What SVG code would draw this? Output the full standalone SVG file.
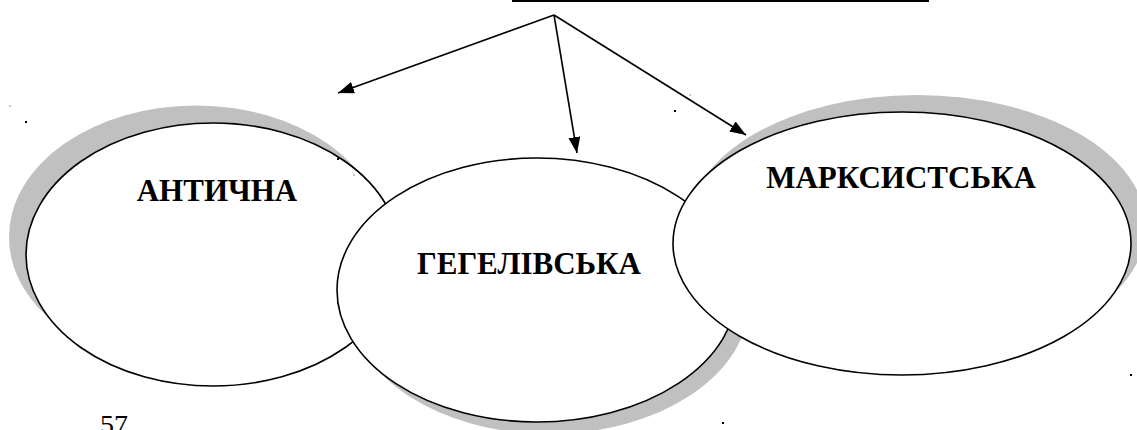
<svg xmlns="http://www.w3.org/2000/svg" width="1137" height="430" viewBox="0 0 1137 430">
<style>
.shadow{fill:#c0c0c0;stroke:none}
.node{fill:#fff;stroke:#000;stroke-width:1.6}
.lbl{font-family:"Liberation Serif","Times New Roman",serif;font-weight:bold;font-size:31px;fill:#000}
.conn{stroke:#000;stroke-width:1.6;fill:none}
.dot{fill:#000}
.gdot{fill:#c8c8c8}
</style>
<defs>
<marker id="arr" markerWidth="16" markerHeight="12" refX="16" refY="6" orient="auto" markerUnits="userSpaceOnUse">
<path d="M0,0 L16,6 L0,12 Z" fill="#000"/>
</marker>
</defs>
<rect width="1137" height="430" fill="#fff"/>
<line x1="512" y1="1" x2="929" y2="1" stroke="#000" stroke-width="2"/>
<g id="node-antychna">
<ellipse class="shadow" cx="196" cy="237" rx="187" ry="131.5"/>
<ellipse class="node" cx="213" cy="254.5" rx="187" ry="131.5"/>
<text class="lbl" x="217" y="201" text-anchor="middle">АНТИЧНА</text>
</g>
<g id="node-hegelivska">
<ellipse class="shadow" cx="549" cy="302" rx="200" ry="132"/>
<ellipse class="node" cx="537" cy="290" rx="200" ry="132"/>
<text class="lbl" x="529" y="274" text-anchor="middle">ГЕГЕЛІВСЬКА</text>
</g>
<g id="node-marksystska">
<ellipse class="shadow" cx="917" cy="226.5" rx="229" ry="131.5"/>
<ellipse class="node" cx="902" cy="243.5" rx="229" ry="131.5"/>
<text class="lbl" x="901" y="188" text-anchor="middle">МАРКСИСТСЬКА</text>
</g>
<g id="connectors">
<line class="conn" x1="554" y1="15" x2="338" y2="93" marker-end="url(#arr)"/>
<line class="conn" x1="554" y1="15" x2="577" y2="153" marker-end="url(#arr)"/>
<line class="conn" x1="554" y1="15" x2="746" y2="135" marker-end="url(#arr)"/>
</g>
<text x="100" y="434" font-family="Liberation Serif, Times New Roman, serif" font-size="28" fill="#000">57</text>
<rect class="dot" x="25" y="121" width="2" height="2"/>
<rect class="gdot" x="9" y="105" width="2" height="2"/>
<rect class="dot" x="337" y="158" width="2" height="2"/>
<rect class="gdot" x="353" y="174" width="2" height="2"/>
<rect class="dot" x="674" y="110" width="2" height="2"/>
<rect class="gdot" x="689" y="94" width="2" height="2"/>
<rect class="dot" x="722" y="422" width="2" height="2"/>
<rect class="dot" x="1130" y="374" width="2" height="2"/>
</svg>
